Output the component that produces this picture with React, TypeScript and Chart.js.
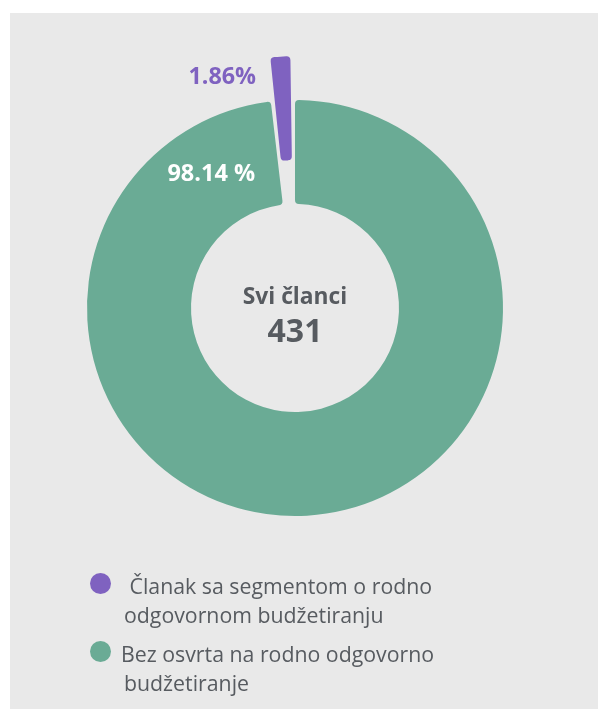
import React, { useEffect, useRef } from "react";
import { Chart, registerables } from "chart.js";

Chart.register(...registerables);

const categories = [
  "Članak sa segmentom o rodno odgovornom budžetiranju",
  "Bez osvrta na rodno odgovorno budžetiranje",
];
const legendLines = [
  [" Članak sa segmentom o rodno", "odgovornom budžetiranju"],
  ["Bez osvrta na rodno odgovorno", "budžetiranje"],
];
const values = [8, 423];
const percentSuffix = ["%", " %"];
const colors = ["#7f62c0", "#6aab95"];
const labelColors = ["#7f62c0", "#ffffff"];
const centerTitle = "Svi članci";

const FONT = "'Open Sans', 'Noto Sans', sans-serif";
const TEXT = "#575b60";

// label placement: angle from top (deg, clockwise), radius from chart center (px)
const labelPlacement = [
  { angle: -17.5, radius: 242 },
  { angle: -32, radius: 158 },
];

const labelsPlugin = {
  id: "customLabels",
  afterDatasetsDraw(chart: any) {
    const ctx = chart.ctx;
    const meta = chart.getDatasetMeta(0);
    const ds = chart.data.datasets[0];
    const total = (ds.data as number[]).reduce((a, b) => a + b, 0);
    const cx = (chart.chartArea.left + chart.chartArea.right) / 2;
    const cy = (chart.chartArea.top + chart.chartArea.bottom) / 2;
    ctx.save();
    ctx.textAlign = "center";
    ctx.textBaseline = "middle";
    meta.data.forEach((arc: any, i: number) => {
      const p = labelPlacement[i];
      const a = (p.angle * Math.PI) / 180;
      const x = cx + Math.sin(a) * p.radius;
      const y = cy - Math.cos(a) * p.radius;
      const pct = ((ds.data[i] as number) / total) * 100;
      ctx.font = `700 ${i === 0 ? 23.3 : 23.5}px ${FONT}`;
      ctx.fillStyle = labelColors[i];
      ctx.fillText(pct.toFixed(2) + percentSuffix[i], x, y);
    });
    ctx.fillStyle = TEXT;
    ctx.font = `700 22.8px ${FONT}`;
    ctx.fillText(centerTitle, cx, cy - 10);
    ctx.font = `700 32px ${FONT}`;
    ctx.fillText(String(total), cx, cy + 25);
    ctx.restore();
  },
};

export default function App() {
  const ref = useRef<HTMLCanvasElement>(null);
  useEffect(() => {
    document.body.style.overflow = "hidden";
    const chart = new Chart(ref.current as HTMLCanvasElement, {
      type: "doughnut",
      data: {
        labels: categories,
        datasets: [
          {
            data: values,
            backgroundColor: colors,
            borderWidth: 0,
            borderRadius: 4,
            offset: [93, 0],
            hoverOffset: 0,
          },
        ],
      },
      options: {
        responsive: false,
        animation: false,
        radius: 208,
        cutout: "50%",
        rotation: -(values[0] / (values[0] + values[1])) * 360,
        plugins: { legend: { display: false }, tooltip: { enabled: false } },
        events: [],
      } as any,
      plugins: [labelsPlugin],
    });
    return () => chart.destroy();
  }, []);

  return (
    <div
      style={{
        position: "absolute",
        left: 10,
        top: 13,
        width: 588,
        height: 696,
        background: "#e9e9e9",
        fontFamily: FONT,
        color: TEXT,
      }}
    >
      <canvas
        ref={ref}
        width={570}
        height={590}
        style={{ position: "absolute", left: 0, top: 0 }}
      />
      {legendLines.map((lines, i) => (
        <div
          key={i}
          style={{
            position: "absolute",
            left: 0,
            top: i === 0 ? 558 : 626,
            width: 588,
          }}
        >
          <span
            style={{
              position: "absolute",
              left: 79.5,
              top: 12 - 10.5,
              width: 21,
              height: 21,
              borderRadius: "50%",
              background: colors[i],
            }}
          />
          <div
            style={{
              position: "absolute",
              left: 114,
              top: 0,
              fontSize: 21.3,
              lineHeight: "29px",
              whiteSpace: "nowrap",
            }}
          >
            {lines.map((l, j) => (
              <div key={j} style={{ marginLeft: j === 0 && i === 1 ? -3 : 0, whiteSpace: "pre" }}>
                {l}
              </div>
            ))}
          </div>
        </div>
      ))}
    </div>
  );
}
